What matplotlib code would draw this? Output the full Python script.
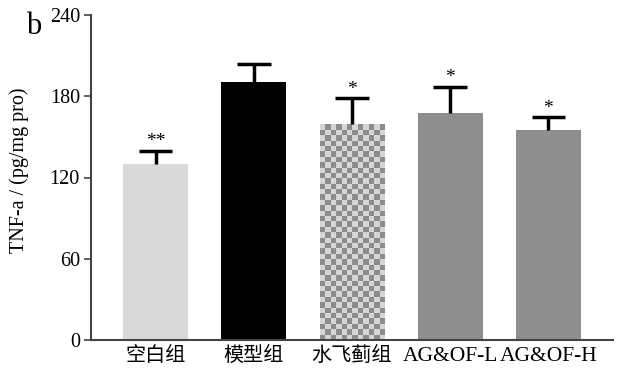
import numpy as np
import matplotlib.pyplot as plt
from matplotlib.colors import ListedColormap

plt.rcParams['font.family'] = ['Liberation Serif', 'Noto Sans CJK SC']

# Data
groups = ['空白组', '模型组', '水飞蓟组', 'AG&OF-L', 'AG&OF-H']
values = [130, 190.5, 159.5, 167.5, 155]
errors = [9.5, 13, 19, 19.5, 9.5]
marks = ['**', '', '*', '*', '*']
colors = ['#d9d9d9', '#000000', '#8e8e8e', '#8e8e8e', '#8e8e8e']

fig = plt.figure(figsize=(6.19, 3.74), dpi=100)
ax = fig.add_axes([91 / 619, 34 / 374, 522 / 619, 325 / 374])

x = np.arange(len(groups))
bars = ax.bar(x, values, width=0.66, color=colors, edgecolor='none', zorder=2)

# upper error bars only
tops = np.array(values) + np.array(errors)
ax.vlines(x, values, tops, color='black', linewidth=2.5, zorder=3)
ax.hlines(tops, x - 0.17, x + 0.17, color='black', linewidth=2.5, zorder=3)

# checkerboard fill for the 水飞蓟组 bar
cb = bars[2]
bx, bw, bh = cb.get_x(), cb.get_width(), cb.get_height()
ncol = 12
px_per_x = 98.0
px_per_y = 325 / 240
cell_px = bw * px_per_x / ncol
nrow = int(np.ceil(bh * px_per_y / cell_px))
checker = np.add.outer(np.arange(nrow), np.arange(ncol)) % 2
img = ax.imshow(checker, cmap=ListedColormap(['#8c8c8c', '#d6d6d6']),
                interpolation='nearest',
                extent=[bx, bx + bw, 0, nrow * cell_px / px_per_y], origin='lower',
                aspect='auto', zorder=2)
img.set_clip_path(cb)

for xi, t, m in zip(x, tops, marks):
    if m:
        ax.text(xi, t + 0.5, m, ha='center', va='bottom', fontsize=14)

ax.set_xlim(-0.66, 4.66)
ax.set_ylim(0, 240)
ax.set_yticks([0, 60, 120, 180, 240])
ax.set_xticks(x)
ax.set_xticklabels(groups)
for lbl in ax.get_xticklabels():
    if lbl.get_text().isascii():
        lbl.set_fontsize(15.5)
    else:
        lbl.set_fontsize(14.5)
        lbl.set_fontweight('light')
ax.tick_params(axis='y', labelsize=14.5, direction='out', length=5, width=1.2,
               colors='#444444', labelcolor='black', pad=3)
ax.tick_params(axis='x', direction='in', length=5, width=1.2, colors='#444444',
               labelcolor='black', pad=5)
ax.set_ylabel('TNF-a / (pg/mg pro)', fontsize=14.5)
ax.yaxis.set_label_coords(-0.119, 0.523)
for s in ['top', 'right']:
    ax.spines[s].set_visible(False)
for s in ['left', 'bottom']:
    ax.spines[s].set_color('#444444')
    ax.spines[s].set_linewidth(1.5)

fig.text(26 / 619, 1 - 26 / 374, 'b', fontsize=22, ha='left', va='center')

fig.savefig('out.png', dpi=100)
